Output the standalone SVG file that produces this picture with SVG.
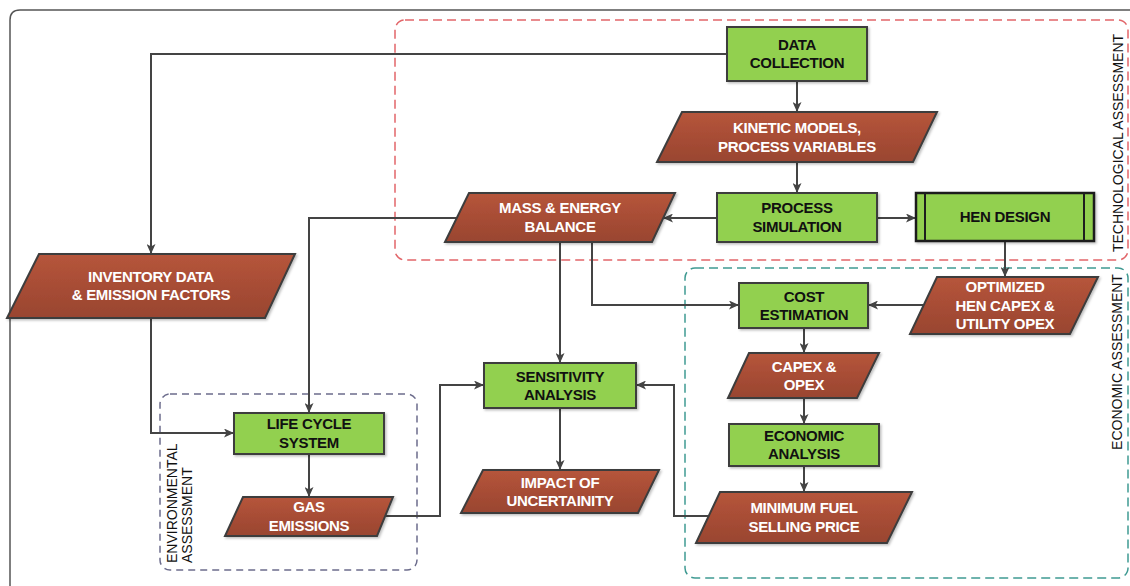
<svg xmlns="http://www.w3.org/2000/svg" width="1130" height="586" viewBox="0 0 1130 586">
  <defs>
    <linearGradient id="rust" x1="0" y1="0" x2="0" y2="1">
      <stop offset="0" stop-color="#b6553b"/>
      <stop offset="1" stop-color="#994530"/>
    </linearGradient>
    <filter id="shadow" x="-10%" y="-10%" width="125%" height="140%">
      <feDropShadow dx="1.5" dy="1.5" stdDeviation="1" flood-color="#000" flood-opacity="0.25"/>
    </filter>
    <marker id="arrow" viewBox="0 0 10 9" refX="10" refY="4.5" markerWidth="10" markerHeight="9" markerUnits="userSpaceOnUse" orient="auto">
      <path d="M0,0 L10,4.5 L0,9 L2.5,4.5 z" fill="#444"/>
    </marker>
    <style>
      .proc { fill: #92d050; stroke: #3d3d3d; stroke-width: 2; filter: url(#shadow); }
      .data { fill: url(#rust); stroke: #3d3d3d; stroke-width: 2; filter: url(#shadow); }
      .sub { fill: #92d050; stroke: #1e1e1e; stroke-width: 2.5; filter: url(#shadow); }
      .subline { stroke: #1e1e1e; stroke-width: 2; }
      .dark { font-family: "Liberation Sans", Arial, sans-serif; font-size: 15px; font-weight: bold; fill: #111; text-anchor: middle; letter-spacing: -0.3px; }
      .light { font-family: "Liberation Sans", Arial, sans-serif; font-size: 15px; font-weight: bold; fill: #fff; text-anchor: middle; letter-spacing: -0.3px; }
      .zone { font-family: "Liberation Sans", Arial, sans-serif; font-size: 14px; fill: #111; }
      .link { fill: none; stroke: #444; stroke-width: 2; marker-end: url(#arrow); }
      .plain { fill: none; stroke: #444; stroke-width: 2; }
    </style>
  </defs>

  <rect width="1130" height="586" fill="#fff"/>

  <!-- outer frame -->
  <path d="M10,586 L10,20 Q10,10 20,10 L1130,10" fill="none" stroke="#555" stroke-width="1.5"/>

  <!-- assessment zones -->
  <g id="zones">
    <rect x="395" y="20" width="733" height="240" rx="10" fill="none" stroke="#e2666a" stroke-width="1.5" stroke-dasharray="9 5"/>
    <rect x="685" y="268" width="443" height="310" rx="10" fill="none" stroke="#3f9a92" stroke-width="1.5" stroke-dasharray="9 5"/>
    <rect x="160" y="394" width="257" height="176" rx="10" fill="none" stroke="#6c6c8c" stroke-width="1.5" stroke-dasharray="7 5"/>
    <text class="zone" text-anchor="middle" transform="translate(1123,143) rotate(-90)">TECHNOLOGICAL ASSESSMENT</text>
    <text class="zone" text-anchor="middle" transform="translate(1122,362) rotate(-90)">ECONOMIC ASSESSMENT</text>
    <text class="zone" text-anchor="start" transform="translate(177,563) rotate(-90)">ENVIRONMENTAL</text>
    <text class="zone" text-anchor="start" transform="translate(192,563) rotate(-90)">ASSESSMENT</text>
  </g>

  <!-- connectors -->
  <g id="connectors">
    <path class="link" d="M727,54 H151 V254"/>
    <path class="link" d="M797,81 V112"/>
    <path class="link" d="M797,162 V193"/>
    <path class="link" d="M717,218 H663"/>
    <path class="link" d="M877,218 H916"/>
    <path class="link" d="M1005,241 V277"/>
    <path class="link" d="M924,305 H868"/>
    <path class="link" d="M457,218 H309 V413"/>
    <path class="link" d="M560,242 V363"/>
    <path class="link" d="M592,242 V305 H739"/>
    <path class="link" d="M151,318 V433 H234"/>
    <path class="link" d="M309,454 V497"/>
    <path class="link" d="M385,516 H440 V385 H484"/>
    <path class="link" d="M708,516 H674 V385 H636"/>
    <path class="link" d="M560,408 V470"/>
    <path class="link" d="M804,328 V353"/>
    <path class="link" d="M804,398 V424"/>
    <path class="link" d="M804,466 V492"/>
  </g>

  <g id="data-collection">
    <rect class="proc" x="727" y="27" width="140" height="54"/>
    <text class="dark" x="797" y="50">DATA</text>
    <text class="dark" x="797" y="68">COLLECTION</text>
  </g>

  <g id="kinetic-models">
    <polygon class="data" points="682,112 937,112 913,162 657,162"/>
    <text class="light" x="797" y="133">KINETIC MODELS,</text>
    <text class="light" x="797" y="152">PROCESS VARIABLES</text>
  </g>

  <g id="process-simulation">
    <rect class="proc" x="717" y="193" width="160" height="49"/>
    <text class="dark" x="797" y="213">PROCESS</text>
    <text class="dark" x="797" y="232">SIMULATION</text>
  </g>

  <g id="hen-design">
    <rect class="sub" x="916" y="193" width="178" height="48"/>
    <line class="subline" x1="925" y1="193" x2="925" y2="241"/>
    <line class="subline" x1="1084" y1="193" x2="1084" y2="241"/>
    <text class="dark" x="1005" y="222">HEN DESIGN</text>
  </g>

  <g id="mass-energy-balance">
    <polygon class="data" points="469,193 675,193 652,242 445,242"/>
    <text class="light" x="560" y="213">MASS &amp; ENERGY</text>
    <text class="light" x="560" y="232">BALANCE</text>
  </g>

  <g id="inventory-data">
    <polygon class="data" points="39,254 295,254 265,318 7,318"/>
    <text class="light" x="151" y="282">INVENTORY DATA</text>
    <text class="light" x="151" y="300">&amp; EMISSION FACTORS</text>
  </g>

  <g id="life-cycle-system">
    <rect class="proc" x="234" y="413" width="150" height="41"/>
    <text class="dark" x="309" y="429">LIFE CYCLE</text>
    <text class="dark" x="309" y="448">SYSTEM</text>
  </g>

  <g id="gas-emissions">
    <polygon class="data" points="243,497 393,497 377,536 225,536"/>
    <text class="light" x="309" y="512">GAS</text>
    <text class="light" x="309" y="531">EMISSIONS</text>
  </g>

  <g id="sensitivity-analysis">
    <rect class="proc" x="484" y="363" width="152" height="45"/>
    <text class="dark" x="560" y="382">SENSITIVITY</text>
    <text class="dark" x="560" y="400">ANALYSIS</text>
  </g>

  <g id="impact-of-uncertainity">
    <polygon class="data" points="483,470 659,470 638,513 461,513"/>
    <text class="light" x="560" y="488">IMPACT OF</text>
    <text class="light" x="560" y="506">UNCERTAINITY</text>
  </g>

  <g id="cost-estimation">
    <rect class="proc" x="739" y="283" width="129" height="45"/>
    <text class="dark" x="804" y="302">COST</text>
    <text class="dark" x="804" y="320">ESTIMATION</text>
  </g>

  <g id="optimized-hen">
    <polygon class="data" points="937,277 1098,277 1070,334 910,334"/>
    <text class="light" x="1005" y="292">OPTIMIZED</text>
    <text class="light" x="1005" y="311">HEN CAPEX &amp;</text>
    <text class="light" x="1005" y="329">UTILITY OPEX</text>
  </g>

  <g id="capex-opex">
    <polygon class="data" points="749,353 879,353 857,398 728,398"/>
    <text class="light" x="804" y="372">CAPEX &amp;</text>
    <text class="light" x="804" y="390">OPEX</text>
  </g>

  <g id="economic-analysis">
    <rect class="proc" x="729" y="424" width="150" height="42"/>
    <text class="dark" x="804" y="441">ECONOMIC</text>
    <text class="dark" x="804" y="459">ANALYSIS</text>
  </g>

  <g id="minimum-fuel-selling-price">
    <polygon class="data" points="720,492 912,492 887,543 696,543"/>
    <text class="light" x="804" y="513">MINIMUM FUEL</text>
    <text class="light" x="804" y="532">SELLING PRICE</text>
  </g>
</svg>
